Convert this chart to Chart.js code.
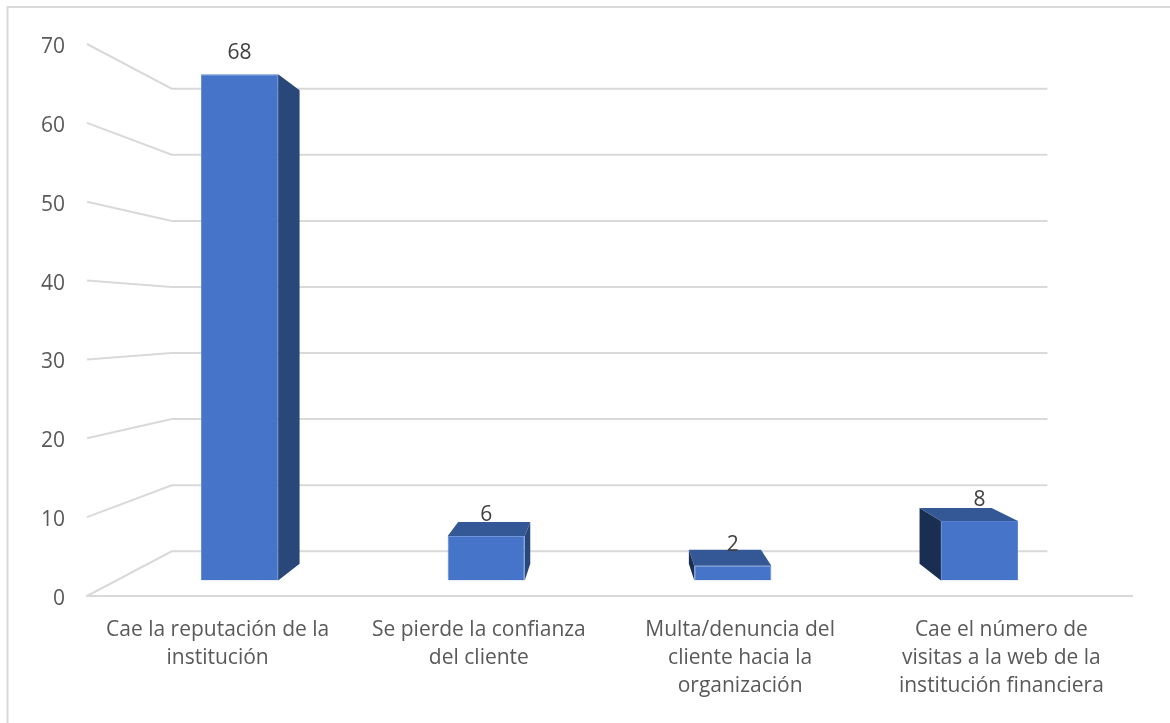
<!DOCTYPE html>
<html>
<head>
<meta charset="utf-8">
<style>
  html, body { margin: 0; padding: 0; background: #fff; overflow: hidden; }
  canvas { display: block; }
</style>
<script src="https://cdn.jsdelivr.net/npm/chart.js@4"></script>
</head>
<body>
<canvas id="chart" width="1170" height="723"></canvas>
<script>
const categories = [
    ['Cae la reputación de la', 'institución'],
    ['Se pierde la confianza', 'del cliente'],
    ['Multa/denuncia del', 'cliente hacia la', 'organización'],
    ['Cae el número de', 'visitas a la web de la', 'institución financiera']
];
const values = [68, 6, 2, 8];
const yTicks = [0, 10, 20, 30, 40, 50, 60, 70];

const FONT = '"Open Sans", sans-serif';
const FONT_SIZE = 21;
const GRID = '#d9d9d9';

// perspectiva: todo se escala hacia el punto de fuga
const VP = { x: 610, y: 320 };
const WALL = 0.838;       // pared del fondo
const BAR_FRONT = 0.944;  // cara frontal de las barras
const BAR_BACK = 0.883;   // cara trasera de las barras

function project(x, y, s) {
    return [VP.x + (x - VP.x) * s, VP.y + (y - VP.y) * s];
}

function poly(ctx, pts, color) {
    ctx.beginPath();
    pts.forEach((p, i) => i ? ctx.lineTo(p[0], p[1]) : ctx.moveTo(p[0], p[1]));
    ctx.closePath();
    ctx.fillStyle = color;
    ctx.fill();
}

const frame3d = {
    id: 'frame3d',
    afterUpdate(chart) {
        // las etiquetas del eje Y van un poco mas abajo que la linea
        chart.scales.y.getLabelItems().forEach(item => { item.options.translation[1] += 3; });
    },
    beforeDraw(chart) {
        const ctx = chart.ctx;
        ctx.save();
        ctx.strokeStyle = GRID;
        ctx.lineWidth = 2;
        ctx.beginPath();
        ctx.moveTo(7.5, 723);
        ctx.lineTo(7.5, 7);
        ctx.lineTo(1170, 7);
        ctx.stroke();
        ctx.restore();
    },
    beforeDatasetsDraw(chart) {
        const ctx = chart.ctx;
        const { left, right } = chart.chartArea;
        const y = chart.scales.y;

        // rejilla: pared lateral y pared del fondo
        ctx.save();
        ctx.strokeStyle = GRID;
        ctx.lineWidth = 2;
        yTicks.forEach(t => {
            const py = y.getPixelForValue(t);
            const a = project(left, py, WALL);
            const b = project(right, py, WALL);
            ctx.beginPath();
            ctx.moveTo(left, py);
            ctx.lineTo(a[0], a[1]);
            ctx.lineTo(b[0], b[1]);
            ctx.stroke();
        });
        ctx.restore();

        // caras laterales y superiores de cada barra
        chart.getDatasetMeta(0).data.forEach(bar => {
            const x0 = bar.x - bar.width / 2, x1 = bar.x + bar.width / 2;
            const f = (x, yy) => project(x, yy, BAR_FRONT);
            const k = (x, yy) => project(x, yy, BAR_BACK);
            if (k(x1, bar.y)[0] > f(x1, bar.y)[0]) {
                poly(ctx, [f(x1, bar.y), k(x1, bar.y), k(x1, bar.base), f(x1, bar.base)], '#294779');
            }
            if (k(x0, bar.y)[0] < f(x0, bar.y)[0]) {
                poly(ctx, [f(x0, bar.y), k(x0, bar.y), k(x0, bar.base), f(x0, bar.base)], '#1a2e52');
            }
            if (k(x0, bar.y)[1] < f(x0, bar.y)[1]) {
                poly(ctx, [f(x0, bar.y), k(x0, bar.y), k(x1, bar.y), f(x1, bar.y)], '#345795');
            }
        });

        // la cara frontal la dibuja Chart.js, ya proyectada
        ctx.save();
        ctx.translate(VP.x, VP.y);
        ctx.scale(BAR_FRONT, BAR_FRONT);
        ctx.translate(-VP.x, -VP.y);
    },
    afterDatasetsDraw(chart) {
        const ctx = chart.ctx;
        ctx.restore();

        ctx.save();
        ctx.font = FONT_SIZE + 'px ' + FONT;
        ctx.fillStyle = '#404040';
        ctx.textAlign = 'center';
        ctx.textBaseline = 'middle';
        chart.getDatasetMeta(0).data.forEach((bar, i) => {
            const p = project(bar.x, bar.y, BAR_FRONT);
            ctx.fillText(String(values[i]), p[0], p[1] - 21);
        });
        ctx.restore();
    }
};

new Chart(document.getElementById('chart'), {
    type: 'bar',
    data: {
        labels: categories,
        datasets: [{
            data: values,
            backgroundColor: '#4674c8',
            borderColor: '#5582d0',
            borderWidth: 1,
            categoryPercentage: 1,
            barPercentage: 0.3125
        }]
    },
    options: {
        responsive: false,
        animation: false,
        layout: { padding: { top: 44, right: 38, left: 0, bottom: 0 } },
        plugins: { legend: { display: false }, tooltip: { enabled: false } },
        scales: {
            x: {
                afterFit: s => { s.height = 127; },
                grid: { display: false, drawTicks: false },
                border: { display: true, color: GRID, width: 2 },
                ticks: {
                    padding: 20,
                    maxRotation: 0,
                    autoSkip: false,
                    color: '#595959',
                    font: { family: FONT, size: FONT_SIZE, lineHeight: 1.333 }
                }
            },
            y: {
                min: 0,
                max: 70,
                afterFit: s => { s.width = 87; },
                grid: { display: false, drawTicks: false },
                border: { display: false },
                ticks: {
                    stepSize: 10,
                    padding: 22,
                    color: '#595959',
                    font: { family: FONT, size: FONT_SIZE }
                }
            }
        }
    },
    plugins: [frame3d]
});
</script>
</body>
</html>
